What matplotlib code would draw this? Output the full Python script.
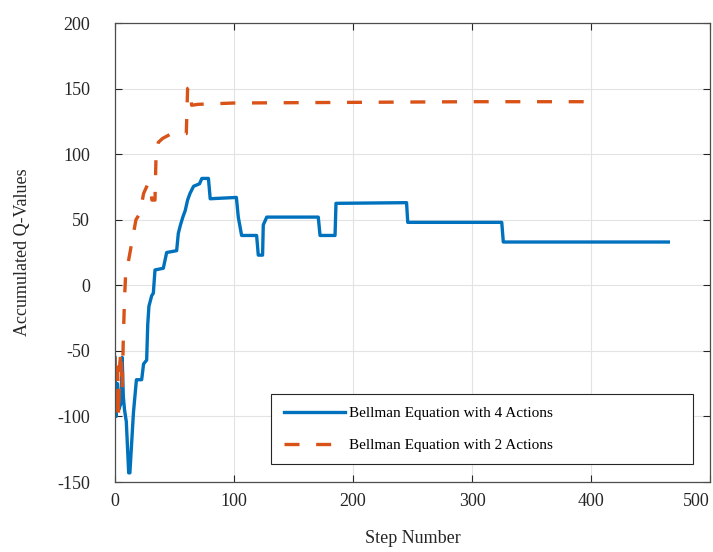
import matplotlib.pyplot as plt

# Bellman equation with 4 actions (step vertices)
steps_4 = [0, 1, 2, 3, 5, 6, 7, 8, 9.5, 11.5, 12.5, 15.5, 18, 22.4, 24, 26.6, 27.5,
           28.5, 30.8, 32.2, 33.6, 40.6, 43.4, 51.8, 53.2, 55, 57, 59, 61, 63, 66,
           71, 73, 78.5, 80, 102, 103.6, 106.4, 119, 120.4, 124, 124.6, 127.5,
           170.8, 172.3, 184.9, 185.7, 245, 246, 325, 326.3, 465]
q_4 = [-55, -100, -75, -95, -90, -55, -85, -95, -104, -143, -143, -97, -72, -72,
       -60, -57, -30, -16, -8, -6, 11.7, 13, 25, 26.4, 39.6, 46, 52, 57, 65, 70,
       75.5, 77.4, 81.5, 81.5, 66, 67, 52, 38, 38, 23, 23, 46, 52, 52, 38, 38,
       62.5, 63, 48, 48, 33, 33]

# Bellman equation with 2 actions
steps_2 = [0, 1, 2, 3, 4, 5, 6, 7, 8, 9, 11, 14, 17.6, 21, 24, 28, 30, 31, 33.6,
           34.5, 36.4, 40, 47.6, 59.9, 61, 63, 64.4, 70, 100, 200, 300, 400]
q_2 = [-55, -100, -55, -100, -60, -50, -80, -40, -10, 10, 17, 32, 50, 55, 70, 78,
       73, 65, 65, 100, 109, 112, 115.7, 115.7, 150, 151, 137.3, 138, 139, 139.5,
       140, 140]

plt.rcParams['font.family'] = ['Liberation Serif', 'DejaVu Serif']
plt.rcParams['axes.unicode_minus'] = False

fig = plt.figure(figsize=(7.13, 5.52), dpi=100)
ax = fig.add_axes([0.1613, 0.1268, 0.8345, 0.8315])

ax.plot(steps_4, q_4, color='#0072BD', lw=2.4, label='Bellman Equation with 4 Actions')
ax.plot(steps_2, q_2, color='#D95319', lw=2.4, dashes=[4.5, 5],
        label='Bellman Equation with 2 Actions')

ax.set_xlim(0, 500)
ax.set_ylim(-150, 200)
ax.set_xticks(range(0, 501, 100))
ax.set_yticks(range(-150, 201, 50))
ax.grid(True, color='#e3e3e3', lw=0.8)
ax.set_axisbelow(True)
ax.tick_params(direction='in', top=True, right=True, labelsize=13,
               colors='#262626', length=5, width=0.8)
ax.tick_params(axis='y', pad=18)
ax.tick_params(axis='x', pad=8)
ax.get_xticklabels()[-1].set_ha('right')
for s in ax.spines.values():
    s.set_color('#4d4d4d')
    s.set_linewidth(0.9)

ax.set_xlabel('Step Number', fontsize=13, color='#262626', labelpad=14)
ax.set_ylabel('Accumulated Q-Values', fontsize=13, color='#262626', labelpad=19)

leg = ax.legend(loc='lower left', bbox_to_anchor=(0.263, 0.039, 0.709, 0.148),
                mode='expand', borderaxespad=0, fontsize=11, handlelength=4,
                handletextpad=0.3, labelspacing=1.2, borderpad=0.8,
                fancybox=False, framealpha=1)
leg.get_frame().set_edgecolor('#262626')
leg.get_frame().set_linewidth(0.8)

plt.savefig('out.png', dpi=100)
